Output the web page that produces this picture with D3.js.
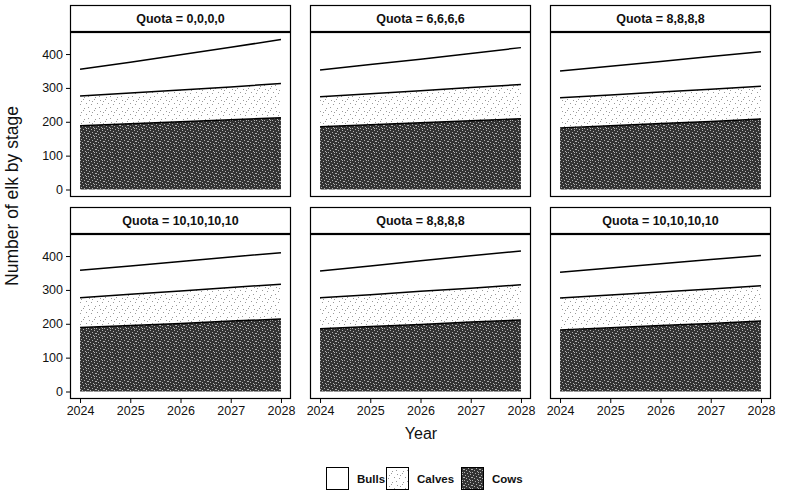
<!DOCTYPE html>
<html>
<head>
<meta charset="utf-8">
<script src="https://cdn.jsdelivr.net/npm/d3@7"></script>
<style>
  html, body { margin: 0; padding: 0; background: #fff; }
  svg { display: block; font-family: "Liberation Sans", Arial, sans-serif; }
</style>
</head>
<body>
<svg id="chart" width="788" height="499"></svg>
<script>
// Projected elk numbers by stage under six harvest-quota scenarios
const years = [2024, 2025, 2026, 2027, 2028];
const quotas = ["0,0,0,0", "6,6,6,6", "8,8,8,8", "10,10,10,10", "8,8,8,8", "10,10,10,10"];
const stages = ["Cows", "Calves", "Bulls"];   // stacking order, bottom to top

// one row per panel, one value per year
const cows = [
  [188, 194, 200, 206, 212],
  [185, 191, 197, 203, 209],
  [182, 188, 195, 201, 208],
  [189, 195, 201, 208, 214],
  [185, 192, 198, 205, 211],
  [182, 188, 195, 201, 208]
];
const calves = [
  [88, 91, 94, 97, 101],
  [89, 92, 95, 98, 101],
  [89, 91, 93, 95, 97],
  [88, 92, 96, 99, 103],
  [92, 94, 98, 100, 104],
  [94, 97, 99, 102, 104]
];
const bulls = [
  [79, 91, 104, 117, 130],
  [79, 86, 93, 101, 109],
  [79, 85, 90, 97, 102],
  [81, 84, 87, 90, 93],
  [79, 85, 90, 96, 100],
  [76, 80, 83, 87, 90]
];
const yTicks = [0, 100, 200, 300, 400];
const legendItems = ["Bulls", "Calves", "Cows"];

const svg = d3.select("#chart");

// ---- textures -----------------------------------------------------------
const defs = svg.append("defs");
function speckle(id, bg, dot, size, dots) {
  const p = defs.append("pattern").attr("id", id)
    .attr("width", size).attr("height", size)
    .attr("patternUnits", "userSpaceOnUse");
  p.append("rect").attr("width", size).attr("height", size).attr("fill", bg);
  p.selectAll("rect.d").data(dots).join("rect").attr("class", "d")
    .attr("x", d => d[0]).attr("y", d => d[1])
    .attr("width", 1).attr("height", 1).attr("fill", dot);
}
speckle("texCalves", "#ffffff", "#9a9a9a", 11,
  [[1, 1], [6, 0], [3, 5], [9, 4], [0, 8], [7, 9], [4, 2]]);
speckle("texCows", "#333333", "#b0b0b0", 8,
  [[0, 0], [3, 1], [6, 2], [1, 3], [4, 4], [7, 5], [2, 6], [5, 7], [6, 0], [0, 5]]);

const fills = { Bulls: "#ffffff", Calves: "url(#texCalves)", Cows: "url(#texCows)" };

// ---- layout -------------------------------------------------------------
const colX = [70, 310, 550];
const panelW = 221;
const rowTop = [5, 207];      // strip tops
const stripH = 27;
const plotH = 165;

const totals = cows.map((c, i) => c.map((v, j) => v + calves[i][j] + bulls[i][j]));
const yMax = d3.max(totals.flat());
const pad = yMax * 0.05;

const stackGen = d3.stack().keys(stages);

quotas.forEach((q, i) => {
  const col = i % 3, row = Math.floor(i / 3);
  const x0 = colX[col];
  const sTop = rowTop[row];
  const pTop = sTop + stripH;

  const x = d3.scaleLinear().domain([2024 - 0.2, 2028 + 0.2]).range([x0, x0 + panelW]);
  const y = d3.scaleLinear().domain([-pad, yMax + pad]).range([pTop + plotH, pTop]);

  const table = years.map((yr, j) => ({
    year: yr, Cows: cows[i][j], Calves: calves[i][j], Bulls: bulls[i][j]
  }));
  const series = stackGen(table);

  const g = svg.append("g");

  g.append("rect").attr("x", x0).attr("y", pTop).attr("width", panelW).attr("height", plotH)
    .attr("fill", "#fff");

  const area = d3.area().x(d => x(d.data.year)).y0(d => y(d[0])).y1(d => y(d[1]));
  const line = d3.line().x(d => x(d.data.year)).y(d => y(d[1]));

  g.selectAll("path.area").data(series).join("path").attr("class", "area")
    .attr("d", area).attr("fill", s => fills[s.key]).attr("stroke", "none");
  g.selectAll("path.top").data(series).join("path").attr("class", "top")
    .attr("d", line).attr("fill", "none").attr("stroke", "#000").attr("stroke-width", 1.5);

  // panel and strip frames
  g.append("rect").attr("x", x0 + 0.5).attr("y", pTop + 0.5)
    .attr("width", panelW - 1).attr("height", plotH - 1)
    .attr("fill", "none").attr("stroke", "#000").attr("stroke-width", 1.2);
  g.append("rect").attr("x", x0 + 0.5).attr("y", sTop + 0.5)
    .attr("width", panelW - 1).attr("height", stripH - 1)
    .attr("fill", "#fff").attr("stroke", "#000").attr("stroke-width", 1.2);
  g.append("text").attr("x", x0 + panelW / 2).attr("y", sTop + stripH / 2 + 4.5)
    .attr("text-anchor", "middle").attr("font-size", 12.5).attr("font-weight", "bold")
    .attr("fill", "#111").text("Quota = " + q);

  if (col === 0) {
    const ax = g.append("g").attr("transform", `translate(${x0},0)`)
      .call(d3.axisLeft(y).tickValues(yTicks).tickSize(4).tickPadding(3));
    ax.select(".domain").remove();
    ax.selectAll("text").attr("font-size", 12.5).attr("fill", "#111")
      .style("font-family", "Liberation Sans, Arial, sans-serif");
    ax.selectAll("line").attr("stroke", "#000");
  }
  if (row === 1) {
    const ax = g.append("g").attr("transform", `translate(0,${pTop + plotH})`)
      .call(d3.axisBottom(x).tickValues(years).tickFormat(d3.format("d")).tickSize(4).tickPadding(3));
    ax.select(".domain").remove();
    ax.selectAll("text").attr("font-size", 12.5).attr("fill", "#111")
      .style("font-family", "Liberation Sans, Arial, sans-serif");
    ax.selectAll("line").attr("stroke", "#000");
  }
});

// ---- axis titles --------------------------------------------------------
svg.append("text").attr("transform", "translate(18,196) rotate(-90)")
  .attr("text-anchor", "middle").attr("font-size", 17.5).attr("fill", "#111")
  .text("Number of elk by stage");
svg.append("text").attr("x", 421).attr("y", 439)
  .attr("text-anchor", "middle").attr("font-size", 16).attr("fill", "#111")
  .text("Year");

// ---- legend -------------------------------------------------------------
const legendX = [326, 386, 461];
const leg = svg.append("g");
legendItems.forEach((name, k) => {
  leg.append("rect").attr("x", legendX[k] + 0.5).attr("y", 467.5)
    .attr("width", 22).attr("height", 22)
    .attr("fill", fills[name]).attr("stroke", "#000").attr("stroke-width", 1);
  leg.append("text").attr("x", legendX[k] + 31).attr("y", 483)
    .attr("font-size", 11.5).attr("font-weight", "bold").attr("fill", "#111").text(name);
});
</script>
</body>
</html>
